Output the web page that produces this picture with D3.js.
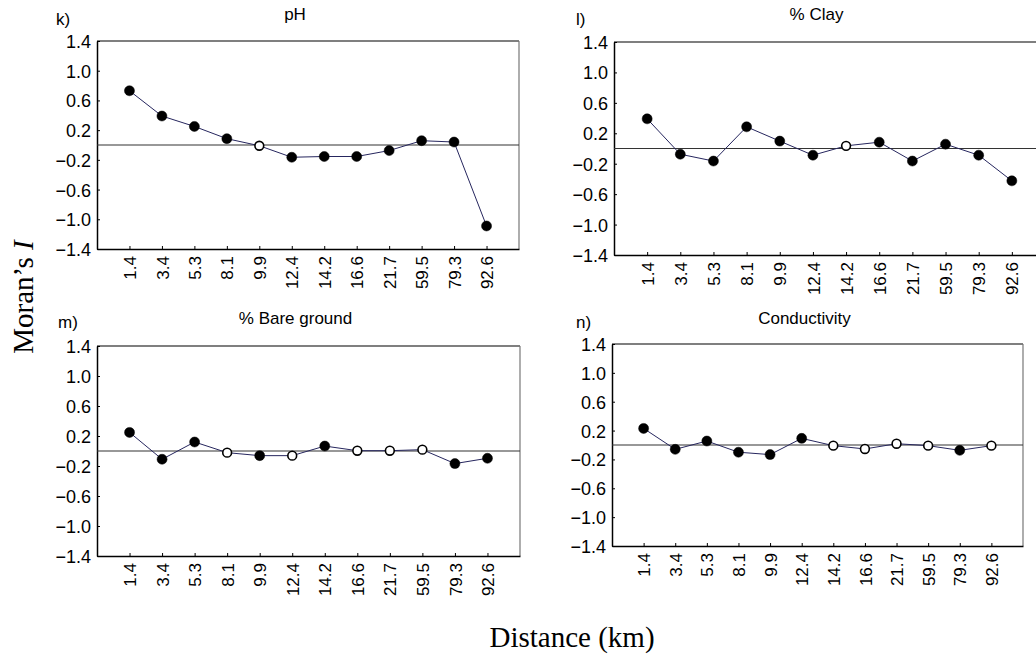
<!DOCTYPE html>
<html>
<head>
<meta charset="utf-8">
<script src="https://cdn.jsdelivr.net/npm/d3@7/dist/d3.min.js"></script>
<style>
  html, body { margin: 0; padding: 0; background: #fff; }
  svg { display: block; }
</style>
</head>
<body>
<svg id="chart" width="1036" height="658"></svg>
<script>
// Lag distance classes (km)
const distances = ["1.4", "3.4", "5.3", "8.1", "9.9", "12.4", "14.2", "16.6", "21.7", "59.5", "79.3", "92.6"];

// Moran's I per distance class
const phValues   = [0.73, 0.39, 0.25, 0.085, -0.01, -0.165, -0.155, -0.155, -0.075, 0.058, 0.04, -1.09];
const clayValues = [0.39, -0.075, -0.165, 0.285, 0.097, -0.088, 0.035, 0.083, -0.165, 0.057, -0.088, -0.425];
const bareValues = [0.248, -0.11, 0.12, -0.022, -0.062, -0.062, 0.066, 0.004, 0.004, 0.018, -0.168, -0.097];
const condValues = [0.23, -0.06, 0.055, -0.10, -0.133, 0.092, -0.009, -0.055, 0.018, -0.009, -0.074, -0.009];

// Significant coefficients (filled markers)
const phSig   = [1, 1, 1, 1, 0, 1, 1, 1, 1, 1, 1, 1];
const claySig = [1, 1, 1, 1, 1, 1, 0, 1, 1, 1, 1, 1];
const bareSig = [1, 1, 1, 0, 1, 0, 1, 0, 0, 0, 1, 1];
const condSig = [1, 1, 1, 1, 1, 1, 0, 0, 0, 0, 1, 0];

// Y axis ticks
const yTicks = [1.4, 1.0, 0.6, 0.2, -0.2, -0.6, -1.0, -1.4];

const SANS = "'Liberation Sans', Arial, sans-serif";
const SERIF = "'Liberation Serif', 'Times New Roman', serif";

const panels = [
  { tag: "k)", title: "pH",            values: phValues,   sig: phSig,   box: { left: 97,  right: 519,  top: 41,  bottom: 249 }, tagPos: [56, 25],  titleY: 20 },
  { tag: "l)", title: "% Clay",        values: clayValues, sig: claySig, box: { left: 614, right: 1045, top: 42,  bottom: 255 }, tagPos: [576, 25], titleY: 20 },
  { tag: "m)", title: "% Bare ground", values: bareValues, sig: bareSig, box: { left: 97,  right: 520,  top: 346, bottom: 556 }, tagPos: [58, 328], titleY: 324 },
  { tag: "n)", title: "Conductivity",  values: condValues, sig: condSig, box: { left: 612, right: 1023, top: 344, bottom: 546 }, tagPos: [576, 328], titleY: 324 }
];

const svg = d3.select("#chart");
svg.append("rect").attr("width", 1036).attr("height", 658).attr("fill", "#fff");

function styleText(sel, size) {
  sel.style("font-family", SANS).style("font-size", size + "px").attr("fill", "#000");
}

panels.forEach(p => {
  const b = p.box;
  const x = d3.scalePoint().domain(distances).range([b.left, b.right]).padding(1);
  const y = d3.scaleLinear().domain([-1.4, 1.4]).range([b.bottom, b.top]);
  const g = svg.append("g");

  // Frame: dark top edge, lighter right edge
  g.append("line").attr("x1", b.left).attr("x2", b.right).attr("y1", b.top).attr("y2", b.top)
    .attr("stroke", "#000").attr("stroke-width", 1.2);
  g.append("line").attr("x1", b.right).attr("x2", b.right).attr("y1", b.top).attr("y2", b.bottom)
    .attr("stroke", "#777").attr("stroke-width", 1.2);

  // Left axis with inward ticks
  const yAxis = d3.axisLeft(y).tickValues(yTicks).tickSizeInner(-3).tickSizeOuter(0)
    .tickFormat(d3.format(".1f"));
  const ya = g.append("g").attr("transform", `translate(${b.left},0)`).call(yAxis);
  ya.select(".domain").attr("stroke", "#000").attr("stroke-width", 1.5);
  ya.selectAll(".tick line").attr("stroke", "#000");
  ya.selectAll(".tick text").attr("x", -6).attr("dy", "0.36em").call(styleText, 18);

  // Bottom axis with inward ticks and rotated labels
  const xAxis = d3.axisBottom(x).tickSizeInner(-3).tickSizeOuter(0);
  const xa = g.append("g").attr("transform", `translate(0,${b.bottom})`).call(xAxis);
  xa.select(".domain").attr("stroke", "#000").attr("stroke-width", 1.5);
  xa.selectAll(".tick line").attr("stroke", "#000");
  xa.selectAll(".tick text")
    .attr("transform", "rotate(-90)")
    .attr("x", -7).attr("y", 0).attr("dy", "0.36em")
    .attr("text-anchor", "end")
    .call(styleText, 17);

  // Zero reference line
  g.append("line").attr("x1", b.left).attr("x2", b.right).attr("y1", y(0)).attr("y2", y(0))
    .attr("stroke", "#333").attr("stroke-width", 1.2);

  // Correlogram line
  const line = d3.line().x((d, i) => x(distances[i])).y(d => y(d));
  g.append("path").datum(p.values).attr("d", line)
    .attr("fill", "none").attr("stroke", "#26265e").attr("stroke-width", 1);

  // Markers
  g.selectAll("circle.pt").data(p.values).join("circle")
    .attr("class", "pt")
    .attr("cx", (d, i) => x(distances[i]))
    .attr("cy", d => y(d))
    .attr("r", (d, i) => p.sig[i] ? 5 : 4.4)
    .attr("fill", (d, i) => p.sig[i] ? "#000" : "#fff")
    .attr("stroke", "#000")
    .attr("stroke-width", (d, i) => p.sig[i] ? 0.5 : 1.6);

  // Panel tag and title
  g.append("text").attr("x", p.tagPos[0]).attr("y", p.tagPos[1]).text(p.tag).call(styleText, 17);
  g.append("text").attr("text-anchor", "middle")
    .attr("x", (b.left + b.right) / 2 - 13).attr("y", p.titleY).text(p.title).call(styleText, 17);
});

// Shared axis titles
svg.append("text").attr("text-anchor", "middle")
  .attr("x", 572).attr("y", 647)
  .style("font-family", SERIF).style("font-size", "29px").attr("fill", "#000")
  .text("Distance (km)");

const yt = svg.append("text").attr("text-anchor", "middle")
  .attr("transform", "translate(33,297) rotate(-90)")
  .style("font-family", SERIF).style("font-size", "29px").attr("fill", "#000");
yt.append("tspan").text("Moran\u2019s ");
yt.append("tspan").attr("font-style", "italic").text("I");
</script>
</body>
</html>
